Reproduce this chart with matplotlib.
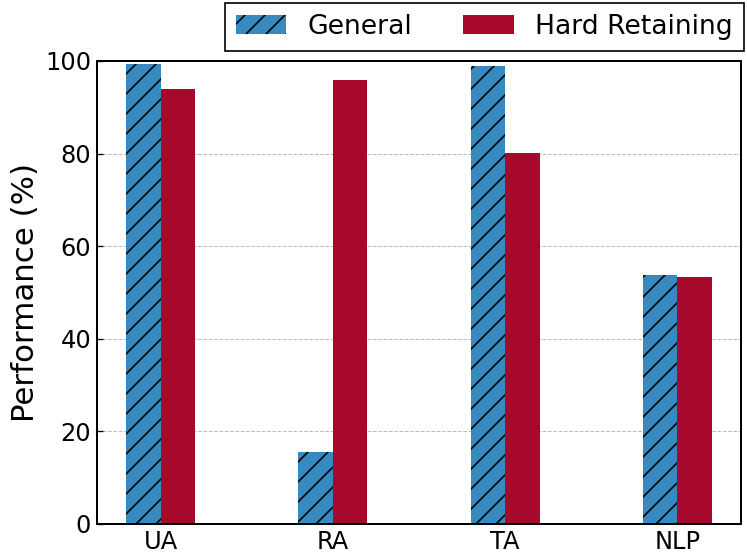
#!/usr/bin/env python3

import numpy as np
import matplotlib
matplotlib.use("Agg")
import matplotlib.pyplot as plt

categories = ["UA", "RA", "TA", "NLP"]
general = [99.3, 15.6, 98.9, 53.7]
hard_retaining = [93.9, 96.0, 80.1, 53.3]

blue = "#378AC0"
red = "#A6092B"


def main():
    fig = plt.figure(figsize=(747 / 120, 560 / 120), dpi=120)
    ax = fig.add_axes([0.1299, 0.0643, 0.862, 0.8268])

    x = np.arange(len(categories))
    width = 0.2

    ax.bar(x - width / 2, general, width, color=blue, edgecolor="black",
           linewidth=0, hatch="//", label="General")
    ax.bar(x + width / 2, hard_retaining, width, color=red, edgecolor=red,
           linewidth=0, label="Hard Retaining")

    ax.set_ylim(0, 100)
    ax.set_xticks(x)
    ax.set_xticklabels(categories)
    ax.set_yticks([0, 20, 40, 60, 80, 100])
    ax.tick_params(axis="both", direction="in", labelsize=14.5)
    ax.set_ylabel("Performance (%)", fontsize=18.5, labelpad=3)

    ax.set_axisbelow(True)
    ax.yaxis.grid(True, linestyle="--", color="#bbbbbb", linewidth=0.6)
    for sp in ax.spines.values():
        sp.set_linewidth(1.2)

    leg = ax.legend(loc="lower right", bbox_to_anchor=(1.004, 1.022), ncol=2,
                    fontsize=16, fancybox=False, edgecolor="black",
                    framealpha=1, handlelength=1.9, columnspacing=1.9,
                    borderaxespad=0)
    leg.get_frame().set_linewidth(1.0)

    plt.savefig("out.png", dpi=120)


if __name__ == "__main__":
    main()
